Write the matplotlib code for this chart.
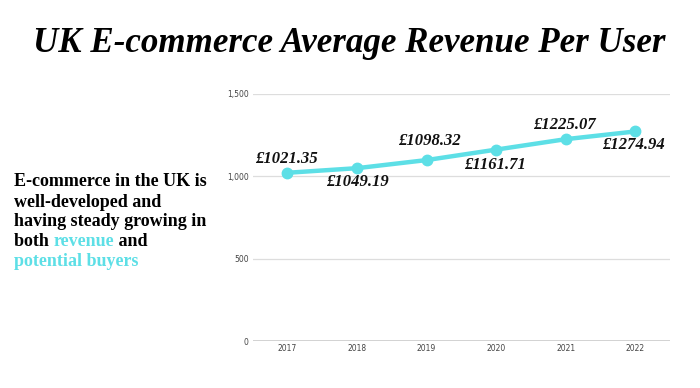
import matplotlib.pyplot as plt

years = ["2017", "2018", "2019", "2020", "2021", "2022"]
arpu = [1021.35, 1049.19, 1098.32, 1161.71, 1225.07, 1271.94]
labels = ["£1021.35", "£1049.19", "£1098.32", "£1161.71", "£1225.07", "£1274.94"]
# label offsets in points (above/below alternate)
offsets = [(-1, 10), (0, -10), (2, 14), (-1, -11), (-1, 10), (-1, -10)]
yticks = [0, 500, 1000, 1500]

cyan = "#5ddfe6"
serif = "Liberation Serif"

fig = plt.figure(figsize=(7, 3.88), dpi=100)
fig.patch.set_facecolor("white")

fig.text(0.499, 0.888, "UK E-commerce Average Revenue Per User", ha="center", va="center",
         fontsize=25.2, fontweight="bold", style="italic", family=serif, color="black")

ax = fig.add_axes([0.361, 0.121, 0.596, 0.637])
x = list(range(len(years)))
ax.plot(x, arpu, color=cyan, lw=3.2, marker="o", ms=7.5, zorder=3, solid_capstyle="round")
for xi, yi, lab, (dx, dy) in zip(x, arpu, labels, offsets):
    ax.annotate(lab, (xi, yi), xytext=(dx, dy), textcoords="offset points",
                ha="center", va="center", fontsize=12, fontweight="bold",
                style="italic", family=serif, color="#111111")

ax.set_xlim(-0.5, len(years) - 0.5)
ax.set_ylim(0, 1500)
ax.set_yticks(yticks)
ax.set_yticklabels([f"{v:,}" for v in yticks])
ax.set_xticks(x)
ax.set_xticklabels(years)
ax.tick_params(length=0, labelsize=5.5, labelcolor="#444444", pad=3)
ax.tick_params(axis="x", pad=2)
for s in ax.spines.values():
    s.set_visible(False)
ax.grid(axis="y", color="#dddddd", lw=0.9)
ax.axhline(0, color="#cccccc", lw=1.2, zorder=2)
ax.set_axisbelow(True)

# left-hand paragraph
txt_kw = dict(fontsize=13, fontweight="bold", family=serif)
lines_y = [182, 202, 222, 242, 262]
fig.text(14 / 700, 1 - lines_y[0] / 388, "E-commerce in the UK is", va="center", color="black", **txt_kw)
fig.text(14 / 700, 1 - lines_y[1] / 388, "well-developed and", va="center", color="black", **txt_kw)
fig.text(14 / 700, 1 - lines_y[2] / 388, "having steady growing in", va="center", color="black", **txt_kw)
t1 = fig.text(14 / 700, 1 - lines_y[3] / 388, "both ", va="center", color="black", **txt_kw)
t2 = ax.annotate("revenue", xy=(1, 0), xycoords=t1, va="bottom", ha="left", color=cyan,
                 annotation_clip=False, **txt_kw)
ax.annotate(" and", xy=(1, 0), xycoords=t2, va="bottom", ha="left", color="black",
            annotation_clip=False, **txt_kw)
fig.text(14 / 700, 1 - lines_y[4] / 388, "potential buyers", va="center", color=cyan, **txt_kw)

fig.savefig("out.png", dpi=100, facecolor="white")
